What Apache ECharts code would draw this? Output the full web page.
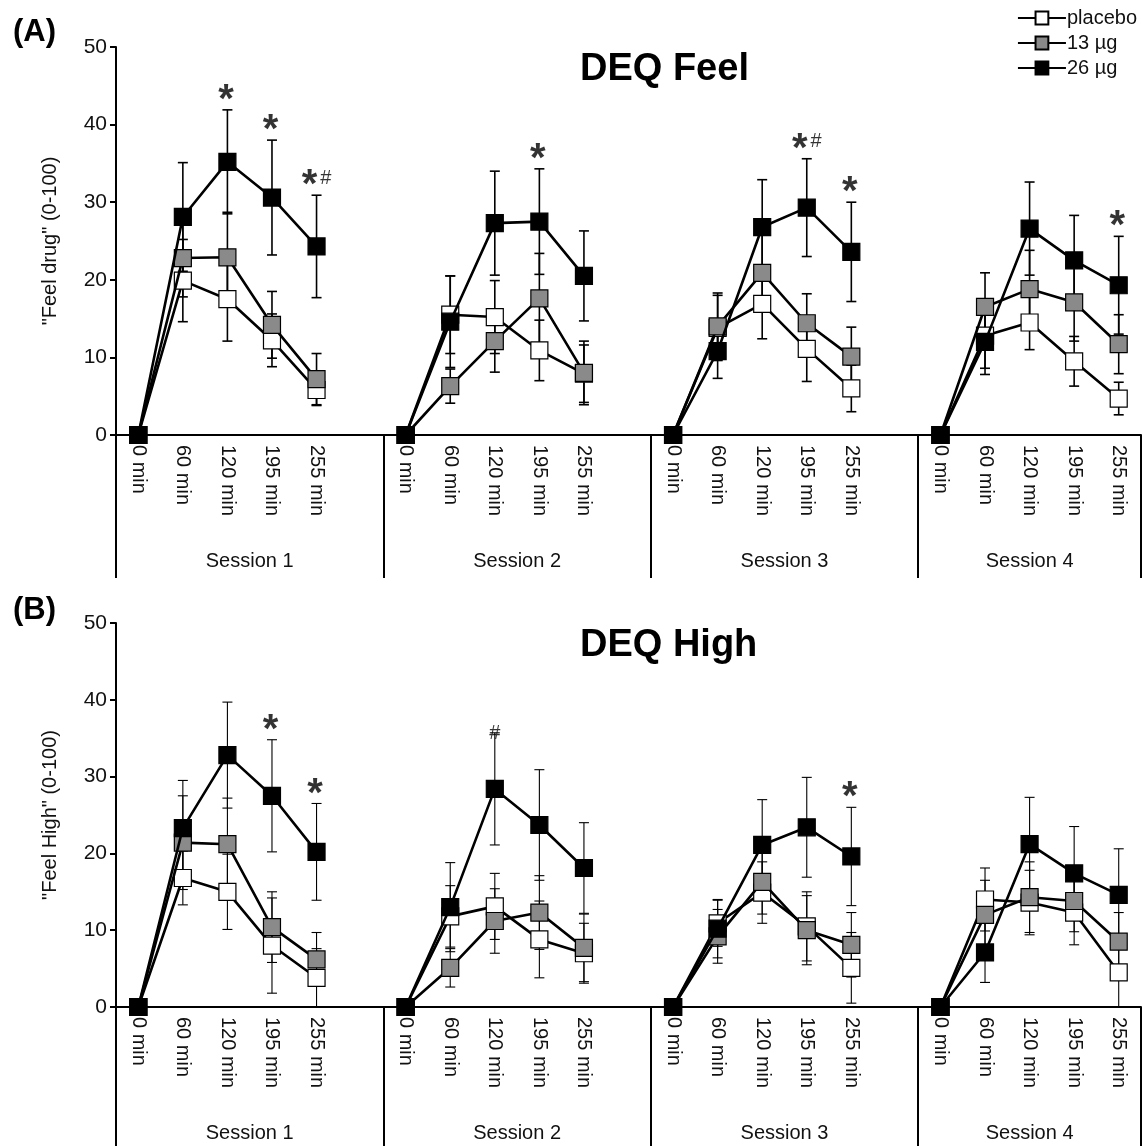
<!DOCTYPE html>
<html><head><meta charset="utf-8">
<script src="https://cdn.jsdelivr.net/npm/echarts@6/dist/echarts.min.js"></script>
<style>html,body{margin:0;padding:0;background:#fff}#c{width:1142px;height:1146px}</style>
</head><body><div id="c"></div>
<script>
// ---- data ----
const times = ['0 min', '60 min', '120 min', '195 min', '255 min'];
const sessions = ['Session 1', 'Session 2', 'Session 3', 'Session 4'];
const doses = ['placebo', '13 µg', '26 µg'];

// Panel A: DEQ Feel  (per session, per time point)
const feelPlacebo    = [[0,19.9,17.5,12.2,5.8],[0,15.5,15.2,10.9,7.9],[0,13.8,16.9,11.1,6.0],[0,12.8,14.5,9.5,4.7]];
const feelPlaceboErr = [[0,5.3,5.4,3.4,2.0],[0,5.0,4.7,3.9,3.7],[0,4.2,4.5,4.2,3.0],[0,4.2,3.5,3.2,2.1]];
const feel13         = [[0,22.8,22.9,14.2,7.2],[0,6.3,12.1,17.6,8.0],[0,14.0,20.9,14.4,10.1],[0,16.5,18.8,17.1,11.7]];
const feel13Err      = [[0,5.0,5.8,4.3,3.3],[0,2.2,4.0,5.8,4.1],[0,4.3,5.0,3.8,3.8],[0,4.4,5.0,5.0,3.8]];
const feel26         = [[0,28.1,35.2,30.6,24.3],[0,14.6,27.3,27.5,20.5],[0,10.8,26.8,29.3,23.6],[0,12.0,26.6,22.5,19.3]];
const feel26Err      = [[0,7.0,6.7,7.4,6.6],[0,5.9,6.7,6.8,5.8],[0,3.5,6.1,6.3,6.4],[0,4.2,6.0,5.8,6.3]];
// significance marks: [session, time index, text]
const feelMarks = [[0,2,'*'],[0,3,'*'],[0,4,'*#'],[1,3,'*'],[2,3,'*#'],[2,4,'*'],[3,4,'*']];

// Panel B: DEQ High
const highPlacebo    = [[0,16.8,15.0,8.0,3.8],[0,11.8,13.1,8.8,7.0],[0,10.9,14.9,10.5,5.1],[0,14.0,13.6,12.3,4.5]];
const highPlaceboErr = [[0,3.5,4.9,6.2,3.8],[0,4.0,4.3,5.0,3.9],[0,3.0,4.0,4.5,4.6],[0,4.1,4.2,4.2,4.5]];
const high13         = [[0,21.4,21.2,10.4,6.2],[0,5.1,11.2,12.3,7.7],[0,9.2,16.3,10.0,8.1],[0,12.0,14.3,13.8,8.5]];
const high13Err      = [[0,6.1,6.0,4.6,3.5],[0,2.5,4.2,4.8,4.4],[0,3.5,4.2,4.5,4.2],[0,4.5,4.6,4.0,3.8]];
const high26         = [[0,23.3,32.8,27.5,20.2],[0,13.0,28.4,23.7,18.1],[0,10.2,21.1,23.4,19.6],[0,7.1,21.2,17.4,14.6]];
const high26Err      = [[0,6.2,6.9,7.3,6.3],[0,5.8,7.3,7.2,5.9],[0,3.8,5.9,6.5,6.4],[0,3.9,6.1,6.1,6.0]];
const highMarks = [[0,3,'*'],[0,4,'*'],[1,2,'#'],[2,4,'*']];

const yTicks = [0, 10, 20, 30, 40, 50];

// ---- build ----
const FONT = 'Liberation Sans, Arial, sans-serif';
const slot = times.length + 1;
const categories = [];
sessions.forEach((s, i) => {
  times.forEach(t => categories.push(t));
  if (i < sessions.length - 1) categories.push('');
});
const nCat = categories.length;
const idxOf = (s, t) => s * slot + t;
const flat = arr => {
  const out = new Array(nCat).fill(null);
  arr.forEach((row, s) => row.forEach((v, t) => { out[idxOf(s, t)] = v; }));
  return out;
};
const errData = (vals, errs) => {
  const out = [];
  vals.forEach((row, s) => row.forEach((v, t) => { if (errs[s][t] > 0) out.push([idxOf(s, t), v, errs[s][t]]); }));
  return out;
};
const sessionBounds = sessions.map((s, i) => [i * slot, Math.min(i * slot + slot, nCat)]);
const sessionTicks = [0].concat(sessionBounds.map(b => b[1]));
const sessionCenters = sessionBounds.map(b => (b[0] + b[1]) / 2);

const fills = ['#ffffff', '#8a8a8a', '#000000'];

const panels = [
  { vals: [feelPlacebo, feel13, feel26], errs: [feelPlaceboErr, feel13Err, feel26Err], marks: feelMarks,
    grid: { left: 116, top: 47, width: 1025, height: 388 }, yName: '"Feel drug" (0-100)', divLen: 143, lw: 2.6, ew: 1.6 },
  { vals: [highPlacebo, high13, high26], errs: [highPlaceboErr, high13Err, high26Err], marks: highMarks,
    grid: { left: 116, top: 623, width: 1025, height: 384 }, yName: '"Feel High" (0-100)', divLen: 140, lw: 2.6, ew: 1.1 }
];

const grids = [], xAxes = [], yAxes = [], series = [];
panels.forEach((p, pi) => {
  grids.push(p.grid);
  xAxes.push({
    type: 'category', gridIndex: pi, data: categories, boundaryGap: true,
    axisLine: { show: true, onZero: false, lineStyle: { color: '#000', width: 2 } },
    axisTick: { show: false },
    axisLabel: { interval: 0, rotate: -90, margin: 10, color: '#111', fontSize: 20, fontFamily: FONT }
  });
  xAxes.push({
    type: 'value', gridIndex: pi, min: 0, max: nCat, position: 'bottom',
    axisLine: { show: false }, splitLine: { show: false },
    axisTick: { show: true, customValues: sessionTicks, length: p.divLen, lineStyle: { color: '#000', width: 2 } },
    axisLabel: { show: true, customValues: sessionCenters, margin: 116, color: '#111', fontSize: 20, fontFamily: FONT,
      formatter: v => { const i = sessionCenters.indexOf(v); return i >= 0 ? sessions[i] : ''; } }
  });
  yAxes.push({
    type: 'value', gridIndex: pi, min: yTicks[0], max: yTicks[yTicks.length - 1], interval: yTicks[1] - yTicks[0],
    axisLine: { show: true, lineStyle: { color: '#000', width: 2 } },
    axisTick: { show: true, inside: false, length: 6, lineStyle: { color: '#000', width: 2 } },
    axisLabel: { color: '#111', fontSize: 21, fontFamily: FONT, margin: 9 },
    splitLine: { show: false },
    name: p.yName, nameLocation: 'middle', nameGap: 56, nameRotate: 90,
    nameTextStyle: { color: '#111', fontSize: 20, fontFamily: FONT }
  });
  const xi = pi * 2;
  // error bars
  p.vals.forEach((vals, d) => {
    series.push({
      type: 'custom', name: 'err' + pi + d, xAxisIndex: xi, yAxisIndex: pi, z: 1,
      data: errData(vals, p.errs[d]),
      renderItem: (params, api) => {
        const x = api.value(0), v = api.value(1), e = api.value(2);
        const t = api.coord([x, v + e]), b = api.coord([x, Math.max(0, v - e)]);
        const hw = 5;
        const st = { stroke: '#000', lineWidth: p.ew };
        return { type: 'group', children: [
          { type: 'line', shape: { x1: t[0], y1: t[1], x2: b[0], y2: b[1] }, style: st },
          { type: 'line', shape: { x1: t[0] - hw, y1: t[1], x2: t[0] + hw, y2: t[1] }, style: st },
          { type: 'line', shape: { x1: b[0] - hw, y1: b[1], x2: b[0] + hw, y2: b[1] }, style: st }
        ]};
      }
    });
  });
  // lines
  p.vals.forEach((vals, d) => {
    series.push({
      type: 'line', name: doses[d], xAxisIndex: xi, yAxisIndex: pi, z: 3 + d,
      data: flat(vals), connectNulls: false,
      symbol: 'rect', symbolSize: 17, showAllSymbol: true,
      lineStyle: { color: '#000', width: p.lw },
      itemStyle: { color: fills[d], borderColor: '#000', borderWidth: 1.2 },
      emphasis: { disabled: true }, animation: false
    });
  });
  // significance marks
  const top = p.vals[2], topErr = p.errs[2];
  series.push({
    type: 'scatter', name: 'marks' + pi, xAxisIndex: xi, yAxisIndex: pi, z: 10,
    symbolSize: 2, itemStyle: { color: 'rgba(0,0,0,0)' },
    data: p.marks.map(m => ({ value: [idxOf(m[0], m[1]), top[m[0]][m[1]] + topErr[m[0]][m[1]]], txt: m[2] })),
    label: {
      show: true, position: 'top', distance: -12, color: '#000',
      formatter: prm => prm.data.txt.split('').map(c => c === '*' ? '{s|*}' : '{h|#}').join(''),
      rich: {
        s: { fontSize: 40, fontWeight: 'bold', color: '#000', fontFamily: FONT, padding: [0, 3, 0, 0] },
        h: { fontSize: 20, color: '#000', fontFamily: FONT, verticalAlign: 'top', padding: [2, 0, 0, 0] }
      }
    }
  });
});

const chart = echarts.init(document.getElementById('c'), null, { renderer: 'canvas' });
chart.setOption({
  animation: false,
  backgroundColor: '#fff',
  title: [
    { text: '(A)', left: 8, top: 12, textStyle: { fontSize: 31, fontWeight: 'bold', color: '#000', fontFamily: FONT } },
    { text: 'DEQ Feel', left: 575, top: 46, textStyle: { fontSize: 38, fontWeight: 'bold', color: '#000', fontFamily: FONT } },
    { text: '(B)', left: 8, top: 590, textStyle: { fontSize: 31, fontWeight: 'bold', color: '#000', fontFamily: FONT } },
    { text: 'DEQ High', left: 575, top: 622, textStyle: { fontSize: 38, fontWeight: 'bold', color: '#000', fontFamily: FONT } }
  ],
  legend: {
    data: doses, orient: 'vertical', right: 0, top: 3, itemWidth: 48, itemHeight: 16, itemGap: 5,
    textStyle: { fontSize: 20, color: '#111', fontFamily: FONT, padding: [0, 0, 0, -4] }
  },
  grid: grids, xAxis: xAxes, yAxis: yAxes, series: series
});
</script></body></html>
